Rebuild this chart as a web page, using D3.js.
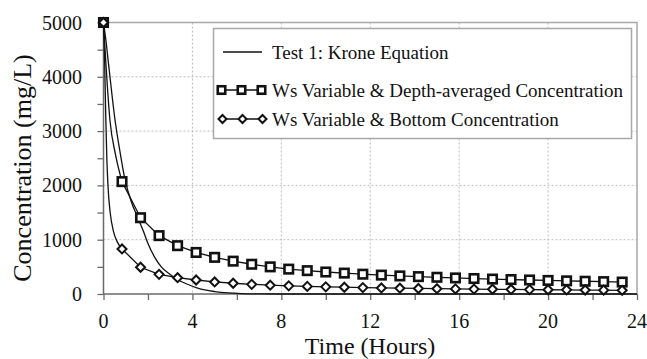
<!DOCTYPE html>
<html>
<head>
<meta charset="utf-8">
<script src="https://cdn.jsdelivr.net/npm/d3@7"></script>
<style>
	body { margin:0; background:#fff; }
	svg { display:block; }
	.grid { stroke:#bdbdbd; stroke-width:1; stroke-dasharray:2,2; }
	.frame { stroke:#a8a8a8; stroke-width:1.5; fill:none; }
	.axis { stroke:#6a6a6a; stroke-width:1.5; }
	.series { fill:none; stroke:#111; stroke-width:1.3; }
	.mk-sq { fill:#fff; stroke:#111; stroke-width:2.6; }
	.mk-dm { fill:#fff; stroke:#111; stroke-width:2; }
</style>
</head>
<body>
<svg class="chart" width="647" height="359"></svg>
<script>
// tick labels
var xTicks = [0, 4, 8, 12, 16, 20, 24];
var yTicks = [0, 1000, 2000, 3000, 4000, 5000];

// Test 1: Krone Equation
var kroneTime = [0, 0.1, 0.25, 0.52, 0.75, 0.97, 1.25, 1.55, 1.8, 2.0, 2.3, 2.6, 3.0, 3.36, 3.8, 4.2, 4.56, 5.0, 5.6, 6.2, 7.0, 8.0, 12, 16, 20, 24];
var kroneConc = [5000, 4700, 4150, 3200, 2600, 2100, 1700, 1400, 1150, 930, 680, 500, 360, 258, 175, 115, 75, 45, 20, 8, 3, 0, 0, 0, 0, 0];

// model output, one marker every 50 minutes
var markerTime = [0, 0.833, 1.667, 2.5, 3.333, 4.167, 5, 5.833, 6.667, 7.5, 8.333, 9.167, 10, 10.833, 11.667, 12.5, 13.333, 14.167, 15, 15.833, 16.667, 17.5, 18.333, 19.167, 20, 20.833, 21.667, 22.5, 23.333];
var depthAvgConc = [5000, 2070, 1405, 1075, 890, 765, 675, 605, 548, 500, 458, 430, 405, 385, 365, 348, 333, 320, 308, 296, 285, 275, 266, 258, 250, 242, 235, 228, 220];
var bottomConc = [5000, 830, 492, 362, 300, 258, 222, 198, 178, 162, 150, 140, 132, 125, 118, 112, 107, 102, 98, 94, 90, 87, 84, 81, 78, 76, 73, 71, 68];

// early steep part of the model lines (between the first two markers)
var depthAvgHeadTime = [0, 0.1, 0.29, 0.55, 0.833];
var depthAvgHeadConc = [5000, 4300, 3200, 2550, 2070];
var bottomHeadTime = [0, 0.05, 0.1, 0.15, 0.2, 0.3, 0.45, 0.62, 0.833];
var bottomHeadConc = [5000, 4300, 3300, 2500, 2000, 1500, 1150, 960, 830];

var legendLabels = ['Test 1: Krone Equation', 'Ws Variable & Depth-averaged Concentration', 'Ws Variable & Bottom Concentration'];

(function(){
	var FONT = 'Liberation Serif, Times New Roman, serif';
	var svg = d3.select('.chart');
	var left = 103.5, right = 637, top = 22.5, bottom = 294;

	var x = d3.scaleLinear().domain([0, 24]).range([left, right]);
	var y = d3.scaleLinear().domain([0, 5000]).range([bottom, top]);

	function zip(ts, vs){
		return ts.map(function(t, i){ return [t, vs[i]]; });
	}

	function addText(g, px, py, text, size, anchor){
		return g.append('text')
			.attr('x', px).attr('y', py)
			.attr('font-family', FONT)
			.attr('font-size', size)
			.attr('fill', '#111')
			.attr('text-anchor', anchor || 'start')
			.text(text);
	}

	// grid
	var gGrid = svg.append('g');
	xTicks.slice(1, -1).forEach(function(t){
		gGrid.append('line').attr('class', 'grid')
			.attr('x1', x(t)).attr('x2', x(t)).attr('y1', top).attr('y2', bottom);
	});
	yTicks.slice(1, -1).forEach(function(v){
		gGrid.append('line').attr('class', 'grid')
			.attr('x1', left).attr('x2', right).attr('y1', y(v)).attr('y2', y(v));
	});

	// frame (top and right)
	svg.append('path').attr('class', 'frame')
		.attr('d', 'M' + left + ',' + top + 'H' + right + 'V' + bottom);

	// axes with d3 (marks only, labels drawn below)
	var xAxis = d3.axisBottom(x).tickValues(d3.range(0, 25, 2)).tickSize(6).tickFormat('');
	var gx = svg.append('g').attr('transform', 'translate(0,' + bottom + ')').call(xAxis);
	var yAxis = d3.axisLeft(y).tickValues(d3.range(0, 5001, 500)).tickSize(6).tickFormat('');
	var gy = svg.append('g').attr('transform', 'translate(' + left + ',0)').call(yAxis);
	[gx, gy].forEach(function(g){
		g.select('.domain').remove();
		g.selectAll('text').remove();
		g.selectAll('line').attr('stroke', '#6a6a6a').attr('stroke-width', 1.3);
	});
	svg.append('line').attr('class', 'axis').attr('x1', left).attr('x2', right).attr('y1', bottom).attr('y2', bottom);
	svg.append('line').attr('class', 'axis').attr('x1', left).attr('x2', left).attr('y1', top).attr('y2', bottom + 0.75);

	// tick labels
	xTicks.forEach(function(t){
		addText(svg, x(t), 327.5, t, 20, 'middle');
	});
	yTicks.forEach(function(v){
		addText(svg, 82, y(v) + 7, v, 20, 'end');
	});

	// titles
	addText(svg, 370, 354, 'Time (Hours)', 24, 'middle');
	addText(svg, 0, 0, 'Concentration (mg/L)', 26, 'middle')
		.attr('transform', 'translate(31,168) rotate(-90)');

	// lines
	var line = d3.line()
		.x(function(d){ return x(d[0]); })
		.y(function(d){ return y(d[1]); })
		.curve(d3.curveMonotoneX);
	var straight = d3.line()
		.x(function(d){ return x(d[0]); })
		.y(function(d){ return y(d[1]); });

	var gLines = svg.append('g');
	gLines.append('path').attr('class', 'series').attr('d', line(zip(kroneTime, kroneConc)));
	gLines.append('path').attr('class', 'series').attr('d', line(zip(depthAvgHeadTime, depthAvgHeadConc)));
	gLines.append('path').attr('class', 'series').attr('d', straight(zip(markerTime, depthAvgConc).slice(1)));
	gLines.append('path').attr('class', 'series').attr('d', line(zip(bottomHeadTime, bottomHeadConc)));
	gLines.append('path').attr('class', 'series').attr('d', straight(zip(markerTime, bottomConc).slice(1)));

	function addSquare(g, cx, cy, s){
		g.append('rect').attr('class', 'mk-sq')
			.attr('x', cx - s/2).attr('y', cy - s/2).attr('width', s).attr('height', s);
	}
	function addDiamond(g, cx, cy, r){
		g.append('path').attr('class', 'mk-dm')
			.attr('d', 'M' + cx + ',' + (cy - r) + 'L' + (cx + r) + ',' + cy + 'L' + cx + ',' + (cy + r) + 'L' + (cx - r) + ',' + cy + 'Z');
	}

	var gMk = svg.append('g');
	zip(markerTime, depthAvgConc).forEach(function(d){ addSquare(gMk, x(d[0]), y(d[1]), 8.5); });
	zip(markerTime, bottomConc).forEach(function(d){ addDiamond(gMk, x(d[0]), y(d[1]), 4.5); });

	// legend
	var gLeg = svg.append('g');
	gLeg.append('rect').attr('x', 213.5).attr('y', 28.5).attr('width', 418).attr('height', 110)
		.attr('fill', '#fff').attr('stroke', '#a8a8a8').attr('stroke-width', 1.5);
	var rowY = [52, 90, 119];
	var symX = [221.5, 241.5, 261.5];
	legendLabels.forEach(function(label, i){
		var yy = rowY[i];
		gLeg.append('line').attr('class', 'series').attr('x1', i === 0 ? 223 : 221).attr('x2', 262).attr('y1', yy).attr('y2', yy);
		if(i === 1) symX.forEach(function(sx){ addSquare(gLeg, sx, yy, 7.5); });
		if(i === 2) symX.forEach(function(sx){ addDiamond(gLeg, sx + 1, yy, 4); });
		addText(gLeg, 272, yy + 6.5, label, 19, 'start');
	});
})();
</script>
</body>
</html>
